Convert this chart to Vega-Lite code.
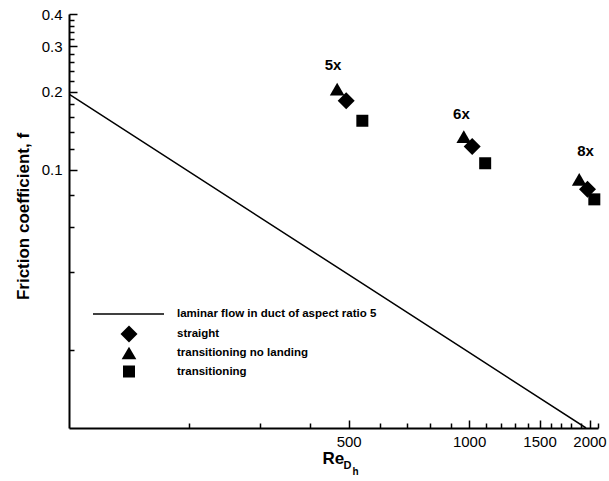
{
  "$schema": "https://vega.github.io/schema/vega-lite/v6.json",
  "width": 529,
  "height": 414,
  "autosize": {"type": "none"},
  "padding": {"left": 69, "top": 14, "right": 11, "bottom": 53},
  "config": {
    "view": {"stroke": null},
    "font": "Liberation Sans",
    "axis": {"grid": false, "domainColor": "black", "tickColor": "black", "labelColor": "black", "titleColor": "black", "labelFont": "Liberation Sans", "titleFont": "Liberation Sans"},
    "legend": {"labelFont": "Liberation Sans", "labelColor": "black"}
  },
  "datasets": {
    "laminar": [
      {"Re": 100, "f": 0.196, "series": "laminar flow in duct of aspect ratio 5"},
      {"Re": 500, "f": 0.0392, "series": "laminar flow in duct of aspect ratio 5"},
      {"Re": 1000, "f": 0.0196, "series": "laminar flow in duct of aspect ratio 5"},
      {"Re": 1960, "f": 0.01, "series": "laminar flow in duct of aspect ratio 5"}
    ],
    "points": [
      {"Re": 468, "f": 0.205, "type": "transitioning no landing"},
      {"Re": 970, "f": 0.134, "type": "transitioning no landing"},
      {"Re": 1885, "f": 0.0917, "type": "transitioning no landing"},
      {"Re": 493, "f": 0.1845, "type": "straight"},
      {"Re": 1018, "f": 0.1228, "type": "straight"},
      {"Re": 1977, "f": 0.0839, "type": "straight"},
      {"Re": 541, "f": 0.1545, "type": "transitioning"},
      {"Re": 1097, "f": 0.1058, "type": "transitioning"},
      {"Re": 2056, "f": 0.0767, "type": "transitioning"}
    ],
    "labels": [
      {"Re": 457, "f": 0.255, "label": "5x"},
      {"Re": 957, "f": 0.1645, "label": "6x"},
      {"Re": 1955, "f": 0.1185, "label": "8x"}
    ]
  },
  "resolve": {"axis": {"x": "independent", "y": "independent"}},
  "layer": [
    {
      "data": {"name": "laminar"},
      "mark": {"type": "line", "strokeWidth": 1.5, "clip": true},
      "encoding": {
        "x": {
          "field": "Re", "type": "quantitative",
          "scale": {"type": "log", "domain": [100, 2100], "nice": false},
          "axis": {
            "orient": "bottom",
            "values": [200, 300, 400, 600, 700, 800, 900, 1100, 1200, 1300, 1400, 1600, 1700, 1800, 1900, 2100],
            "labels": false, "tickSize": -5, "tickWidth": 1.5, "domainWidth": 2,
            "title": "Re", "titleFontSize": 17, "titleFontWeight": "bold",
            "titleAlign": "left", "titleBaseline": "alphabetic", "titleX": 253, "titleY": 35
          }
        },
        "y": {
          "field": "f", "type": "quantitative",
          "scale": {"type": "log", "domain": [0.01, 0.4], "nice": false},
          "axis": {
            "orient": "left",
            "values": [0.02, 0.04, 0.06, 0.08, 0.12, 0.14, 0.16, 0.18, 0.22, 0.24, 0.26, 0.28, 0.32, 0.34, 0.36, 0.38],
            "labels": false, "tickSize": -5, "tickWidth": 1.5, "domainWidth": 2,
            "title": "Friction coefficient, f", "titleFontSize": 17, "titleFontWeight": "bold",
            "titleAngle": -90, "titleAlign": "center", "titleBaseline": "middle", "titleX": -45.5, "titleY": 202
          }
        },
        "color": {
          "field": "series", "type": "nominal",
          "scale": {"range": ["black"]},
          "legend": {
            "orient": "none", "legendX": 23, "legendY": 263.5, "title": null,
            "symbolType": "stroke", "symbolSize": 5041, "symbolStrokeWidth": 1.5, "symbolStrokeColor": "black",
            "labelFontSize": 11.5, "labelFontWeight": "bold", "labelOffset": 12, "padding": 0, "labelLimit": 400
          }
        }
      }
    },
    {
      "data": {"name": "points"},
      "mark": {"type": "point", "filled": true, "color": "black", "opacity": 1, "strokeWidth": 0},
      "encoding": {
        "x": {
          "field": "Re", "type": "quantitative",
          "scale": {"type": "log", "domain": [100, 2100], "nice": false},
          "axis": {
            "orient": "bottom", "values": [500, 1000, 1500, 2000], "format": "d",
            "tickSize": -8, "tickWidth": 1.5, "domain": false,
            "labelFontSize": 15, "labelPadding": 14,
            "title": "D", "titleFontSize": 11, "titleFontWeight": "bold",
            "titleAlign": "left", "titleBaseline": "alphabetic", "titleX": 274, "titleY": 40
          }
        },
        "y": {
          "field": "f", "type": "quantitative",
          "scale": {"type": "log", "domain": [0.01, 0.4], "nice": false},
          "axis": {
            "orient": "left", "values": [0.1, 0.2, 0.3, 0.4], "format": ".1f",
            "tickSize": -8, "tickWidth": 1.5, "domain": false,
            "labelFontSize": 15, "labelPadding": 15, "title": null
          }
        },
        "shape": {
          "field": "type", "type": "nominal",
          "scale": {"domain": ["straight", "transitioning no landing", "transitioning"], "range": ["diamond", "triangle-up", "square"]},
          "legend": {
            "orient": "none", "legendX": 51.5, "legendY": 311.5, "title": null,
            "labelFontSize": 11.5, "labelFontWeight": "bold", "labelOffset": 39.5, "padding": 0, "rowPadding": 3, "gridAlign": "all",
            "symbolFillColor": "black", "symbolStrokeWidth": 0, "symbolOpacity": 1, "labelLimit": 400
          }
        },
        "size": {
          "field": "type", "type": "nominal",
          "scale": {"domain": ["straight", "transitioning no landing", "transitioning"], "range": [289, 144, 196]},
          "legend": {
            "orient": "none", "legendX": 51.5, "legendY": 311.5, "title": null,
            "labelFontSize": 11.5, "labelFontWeight": "bold", "labelOffset": 39.5, "padding": 0, "rowPadding": 3, "gridAlign": "all",
            "symbolFillColor": "black", "symbolStrokeWidth": 0, "symbolOpacity": 1, "labelLimit": 400
          }
        }
      }
    },
    {
      "data": {"name": "labels"},
      "mark": {"type": "text", "font": "Liberation Sans", "fontSize": 15, "fontWeight": "bold", "color": "black", "align": "center", "baseline": "middle"},
      "encoding": {
        "x": {
          "field": "Re", "type": "quantitative",
          "scale": {"type": "log", "domain": [100, 2100], "nice": false},
          "axis": {
            "orient": "bottom", "values": [], "domain": false, "ticks": false, "labels": false,
            "title": "h", "titleFontSize": 10, "titleFontWeight": "bold",
            "titleAlign": "left", "titleBaseline": "alphabetic", "titleX": 283, "titleY": 46
          }
        },
        "y": {
          "field": "f", "type": "quantitative",
          "scale": {"type": "log", "domain": [0.01, 0.4], "nice": false},
          "axis": null
        },
        "text": {"field": "label"}
      }
    }
  ]
}
